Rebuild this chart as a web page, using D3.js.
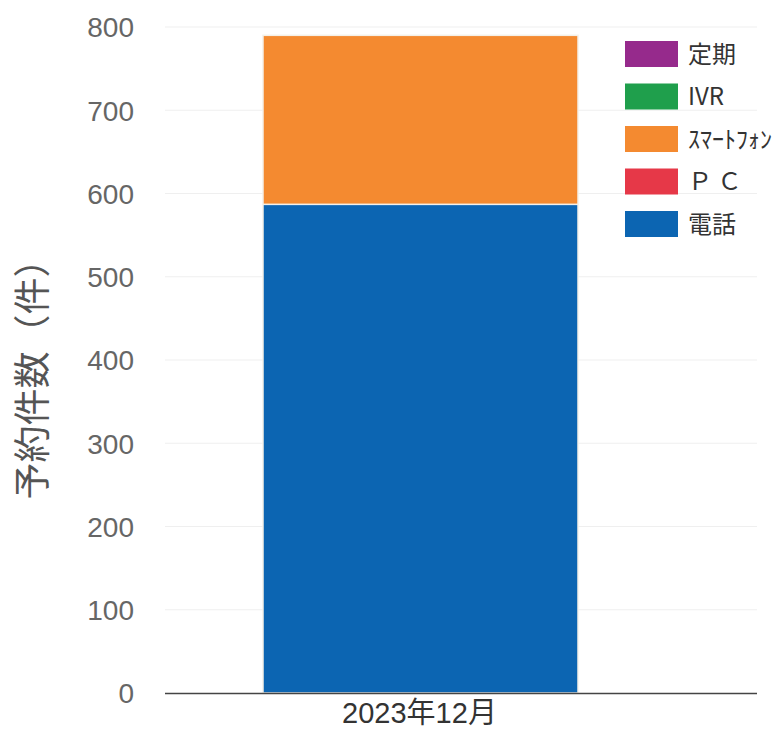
<!DOCTYPE html>
<html><head><meta charset="utf-8">
<script src="https://cdn.jsdelivr.net/npm/d3@7"></script>
<style>body{margin:0;background:#fff}</style>
</head><body>
<svg id="c" width="784" height="730"></svg>
<script>
const categories = ["2023年12月"];
const seriesNames = ["電話", "ＰＣ", "ｽﾏｰﾄﾌｫﾝ", "IVR", "定期"];
const seriesValues = {
  "電話": [587],
  "ＰＣ": [0],
  "ｽﾏｰﾄﾌｫﾝ": [203],
  "IVR": [0],
  "定期": [0]
};
const legendOrder = ["定期", "IVR", "ｽﾏｰﾄﾌｫﾝ", "ＰＣ", "電話"];
const legendLabels = {"定期":"定期","IVR":"IVR","ｽﾏｰﾄﾌｫﾝ":"ｽﾏｰﾄﾌｫﾝ","ＰＣ":"Ｐ Ｃ","電話":"電話"};
const yTicks = [0,100,200,300,400,500,600,700,800];
const colors = {"電話":"#0c65b2","ＰＣ":"#e63848","ｽﾏｰﾄﾌｫﾝ":"#f48a30","IVR":"#1f9f4c","定期":"#962a8c"};

const svg = d3.select("#c");
const y = d3.scaleLinear().domain([0,800]).range([693,27]);
const x = d3.scaleBand().domain(categories).range([165,676]).paddingInner(0.2373).paddingOuter(0.2373);
const plotL = 165, plotR = 757;

// gridlines
svg.append("g").selectAll("line").data(yTicks.filter(d=>d>0)).join("line")
  .attr("x1",plotL).attr("x2",plotR).attr("y1",d=>y(d)).attr("y2",d=>y(d))
  .attr("stroke","#efefef").attr("stroke-width",1);

// stacked bars
const table = categories.map((c,i)=>{const o={cat:c}; seriesNames.forEach(s=>o[s]=seriesValues[s][i]); return o;});
const stack = d3.stack().keys(seriesNames)(table);
svg.append("g").selectAll("g").data(stack).join("g")
  .attr("fill",d=>colors[d.key])
  .selectAll("rect").data(d=>d.filter(p=>p[1]-p[0]>0)).join("rect")
  .attr("x",d=>x(d.data.cat)).attr("width",x.bandwidth())
  .attr("y",d=>y(d[1])).attr("height",d=>y(d[0])-y(d[1]))
  .attr("stroke","#f4f0e8").attr("stroke-width",1.5);

// y axis
const yAxis = d3.axisLeft(y).tickValues(yTicks).tickSize(0).tickPadding(0);
const gy = svg.append("g").attr("transform","translate(134,0)").call(yAxis);
gy.select(".domain").remove();
gy.selectAll("text").attr("font-family","Liberation Sans, Arial, sans-serif").attr("font-size",28).attr("fill","#666").attr("dy","0.35em");

// x axis
const xAxis = d3.axisBottom(x).tickSize(0).tickPadding(0);
const gx = svg.append("g").attr("transform","translate(0,693)").call(xAxis);
gx.select(".domain").remove();
gx.selectAll("text").attr("font-family","Liberation Sans, 'Noto Sans CJK JP', sans-serif").attr("font-size",29).attr("fill","#333").attr("dy","1.05em").attr("dx","-1");
svg.append("line").attr("x1",plotL).attr("x2",plotR).attr("y1",693.5).attr("y2",693.5).attr("stroke","#444").attr("stroke-width",1.5);

// y label
svg.append("text").attr("transform","translate(46,370) rotate(-90)")
  .attr("text-anchor","middle").attr("font-family","'Noto Sans CJK JP', sans-serif")
  .attr("font-size",37).attr("fill","#555").text("予約件数（件）");

// legend
const lg = svg.append("g").selectAll("g").data(legendOrder).join("g")
  .attr("transform",(d,i)=>`translate(625,${41+i*42.5})`);
lg.append("rect").attr("width",53).attr("height",26).attr("fill",d=>colors[d]);
lg.append("text").attr("x",63).attr("y",13).attr("dy","0.36em")
  .attr("font-family","'Noto Sans CJK JP', sans-serif").attr("font-size",24).attr("fill","#333")
  .text(d=>legendLabels[d]);
</script>
</body></html>
